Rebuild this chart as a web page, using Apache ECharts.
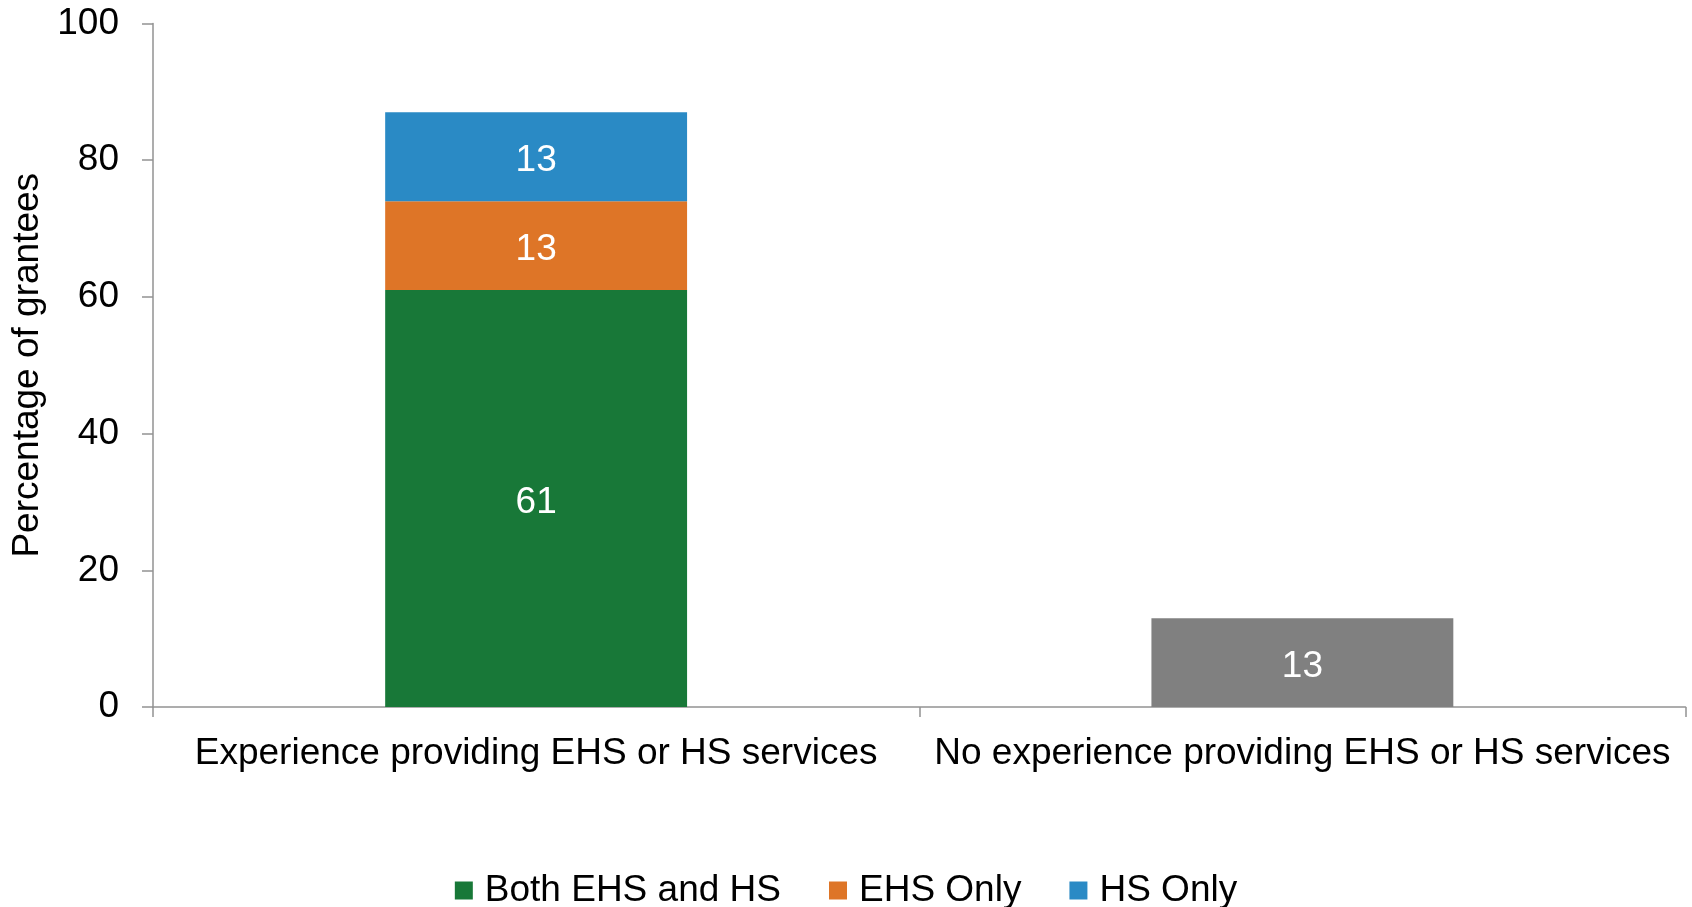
<!DOCTYPE html>
<html>
<head>
<meta charset="utf-8">
<title>Percentage of grantees by experience</title>
<script src="https://cdn.jsdelivr.net/npm/echarts@6/dist/echarts.min.js"></script>
<style>
  html, body { margin: 0; padding: 0; background: #ffffff; }
  #chart { width: 1692px; height: 907px; }
</style>
</head>
<body>
<div id="chart"></div>
<script>
// Categories along the x axis
const categories = [
  'Experience providing EHS or HS services',
  'No experience providing EHS or HS services'
];

// Stacked segments for grantees with experience
const bothEhsHs = [61, '-'];
const ehsOnly   = [13, '-'];
const hsOnly    = [13, '-'];
// Single bar for grantees without experience
const noExperience = ['-', 13];

// Y-axis range and step
const yMin = 0;
const yMax = 100;
const yStep = 20;

const FONT = '"Liberation Sans", Arial, sans-serif';
const AXIS_COLOR = '#929292';

const labelStyle = {
  show: true,
  position: 'inside',
  offset: [0, 4],
  color: '#ffffff',
  fontFamily: FONT,
  fontSize: 37,
  formatter: p => p.value
};

function barSeries(name, data, color) {
  return {
    name: name,
    type: 'bar',
    stack: 'grantees',
    barWidth: '39.4%',
    data: data,
    itemStyle: { color: color },
    label: labelStyle,
    emphasis: { disabled: true }
  };
}

const chart = echarts.init(document.getElementById('chart'), null, { renderer: 'canvas' });

chart.setOption({
  animation: false,
  backgroundColor: '#ffffff',
  textStyle: { fontFamily: FONT },
  grid: {
    left: 153,
    right: 6.5,
    top: 23.5,
    bottom: 200,
    containLabel: false
  },
  legend: {
    data: ['Both EHS and HS', 'EHS Only', 'HS Only'],
    left: 'center',
    top: 867,
    itemWidth: 18,
    itemHeight: 18,
    itemGap: 48,
    icon: 'rect',
    selectedMode: false,
    textStyle: {
      fontFamily: FONT,
      fontSize: 37,
      color: '#000000',
      padding: [0, 0, 0, 7]
    }
  },
  xAxis: {
    type: 'category',
    data: categories,
    boundaryGap: true,
    axisLine: { show: true, lineStyle: { color: AXIS_COLOR, width: 1.5 } },
    axisTick: { show: true, inside: false, length: 10, alignWithLabel: false,
                lineStyle: { color: AXIS_COLOR, width: 1.5 } },
    axisLabel: {
      color: '#000000',
      fontFamily: FONT,
      fontSize: 37,
      margin: 28,
      interval: 0
    },
    splitLine: { show: false }
  },
  yAxis: {
    type: 'value',
    min: yMin,
    max: yMax,
    interval: yStep,
    name: 'Percentage of grantees',
    nameLocation: 'middle',
    nameGap: 97,
    nameTextStyle: {
      color: '#000000',
      fontFamily: FONT,
      fontSize: 37
    },
    axisLine: { show: true, lineStyle: { color: AXIS_COLOR, width: 1.5 } },
    axisTick: { show: true, inside: false, length: 11,
                lineStyle: { color: AXIS_COLOR, width: 1.5 } },
    axisLabel: {
      color: '#000000',
      fontFamily: FONT,
      fontSize: 37,
      margin: 34,
      padding: [4, 0, 0, 0]
    },
    splitLine: { show: false }
  },
  series: [
    barSeries('Both EHS and HS', bothEhsHs, '#187838'),
    barSeries('EHS Only', ehsOnly, '#DE7527'),
    barSeries('HS Only', hsOnly, '#2A8AC5'),
    barSeries('No experience', noExperience, '#808080')
  ]
});
</script>
</body>
</html>
